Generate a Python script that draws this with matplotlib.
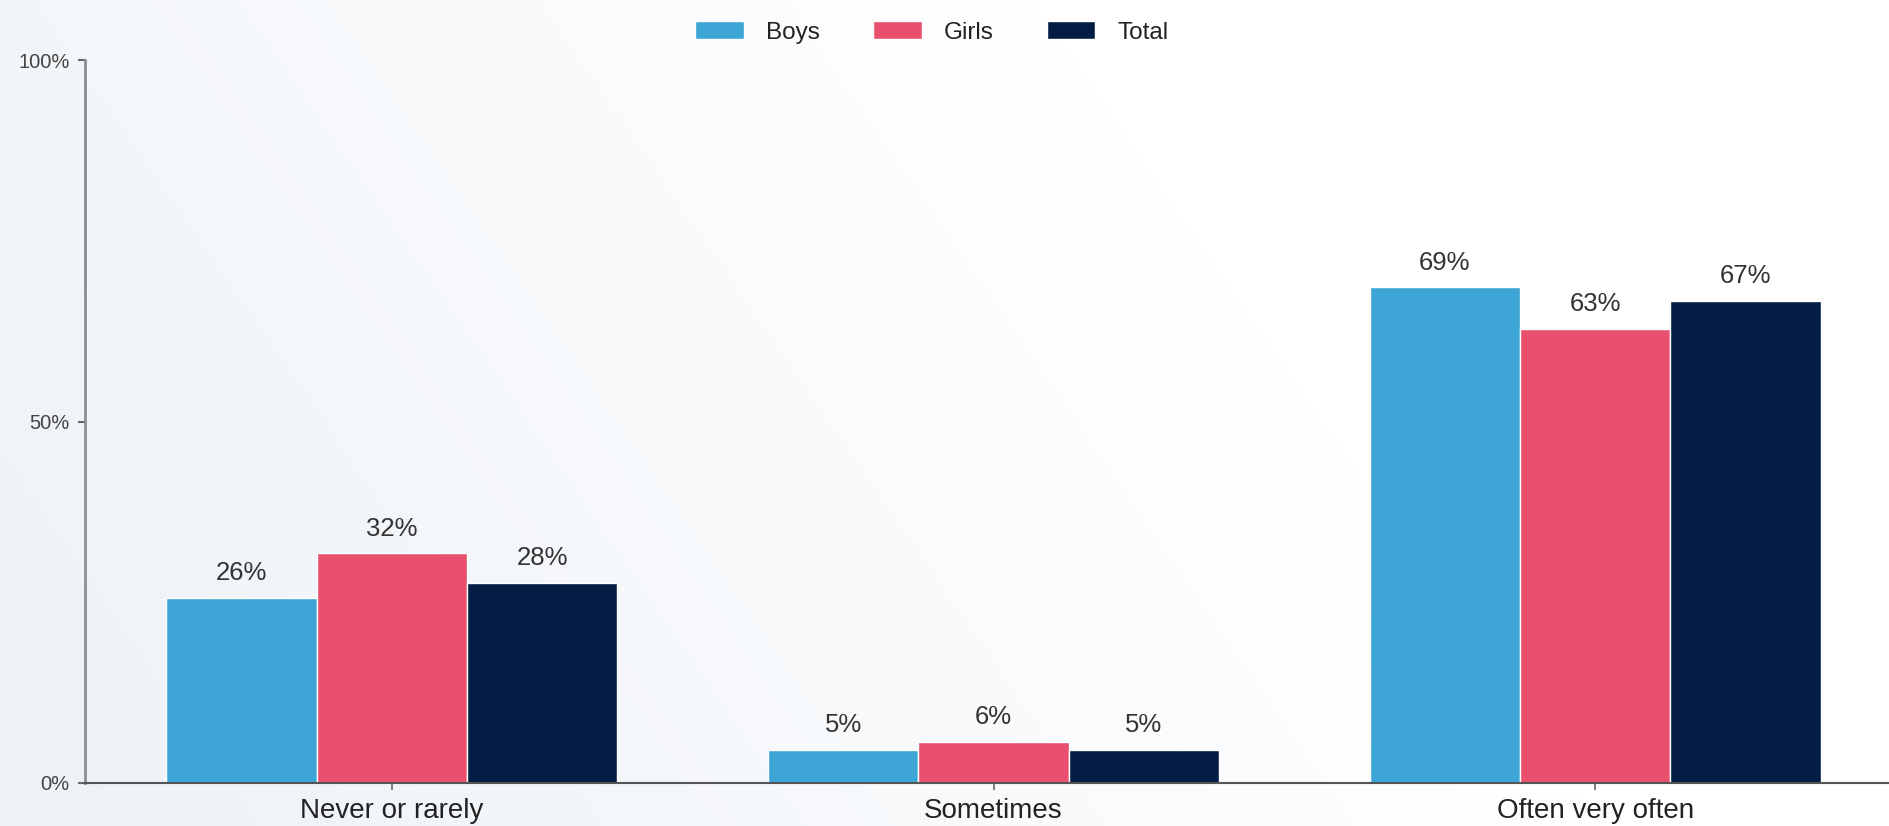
import matplotlib
matplotlib.use("Agg")
import matplotlib.pyplot as plt
import numpy as np
from matplotlib.colors import LinearSegmentedColormap

plt.rcParams['font.family'] = ['Liberation Sans', 'DejaVu Sans']

categories = ["Never or rarely", "Sometimes", "Often very often"]
series_names = ["Boys", "Girls", "Total"]
boys = [25.6, 4.6, 68.6]
girls = [31.8, 5.7, 62.8]
total = [27.7, 4.6, 66.7]
colors = ["#3ea6d6", "#e8506e", "#041d45"]
yticks = [0, 50, 100]
ytick_labels = ["0%", "50%", "100%"]

W, H = 1890, 826
fig = plt.figure(figsize=(W / 100, H / 100), dpi=100)

# background gradient
bg = fig.add_axes([0, 0, 1, 1], zorder=-10)
cmap = LinearSegmentedColormap.from_list("bg", ["#edf2f7", "#ffffff"])
xg = np.linspace(0, 1, 400)
yg = np.linspace(0, 1, 200)
X, Y = np.meshgrid(xg, yg)
Z = np.clip((X * 1.0 + (1 - Y) * 0.3) / 0.85, 0, 1)
bg.imshow(Z, cmap=cmap, aspect="auto", extent=[0, 1, 0, 1], origin="upper")
bg.set_axis_off()

ax = fig.add_axes([85 / W, 1 - 783 / H, 1 - 85 / W, (783 - 60) / H])
ax.patch.set_alpha(0)

x = np.arange(len(categories))
width = 0.25
data = [boys, girls, total]
for i, (vals, name, col) in enumerate(zip(data, series_names, colors)):
    bars = ax.bar(x + (i - 1) * width, vals, width, color=col, label=name,
                  edgecolor="white", linewidth=1.0, zorder=2)
    for b, v in zip(bars, vals):
        ax.annotate(f"{round(v)}%", (b.get_x() + b.get_width() / 2, b.get_height()),
                    xytext=(0, 9), textcoords="offset points", ha="center", va="bottom",
                    fontsize=18.5, color="#333333")

ax.set_xlim(-0.51, 2.49)
ax.set_ylim(0, 100)
ax.set_xticks(x)
ax.set_xticklabels(categories, fontsize=20, color="#222222")
ax.set_yticks(yticks)
ax.set_yticklabels(ytick_labels, fontsize=14.5, color="#444444")
ax.tick_params(axis="y", length=5, width=1.5, color="#666666", pad=6)
ax.tick_params(axis="x", length=5, width=1.2, color="#666666", pad=6)
for s in ["top", "right"]:
    ax.spines[s].set_visible(False)
ax.spines["left"].set_color("#8a8f96")
ax.spines["left"].set_linewidth(2)
ax.spines["bottom"].set_color("#555555")
ax.spines["bottom"].set_linewidth(1.5)

leg = fig.legend(loc="upper center", bbox_to_anchor=(0.493, 0.995), ncol=3, frameon=False,
                 fontsize=17.5, handlelength=2.0, handleheight=0.76, handletextpad=0.9,
                 columnspacing=2.2, borderaxespad=0.3)
for t in leg.get_texts():
    t.set_color("#222222")

fig.savefig("out.png", dpi=100)
